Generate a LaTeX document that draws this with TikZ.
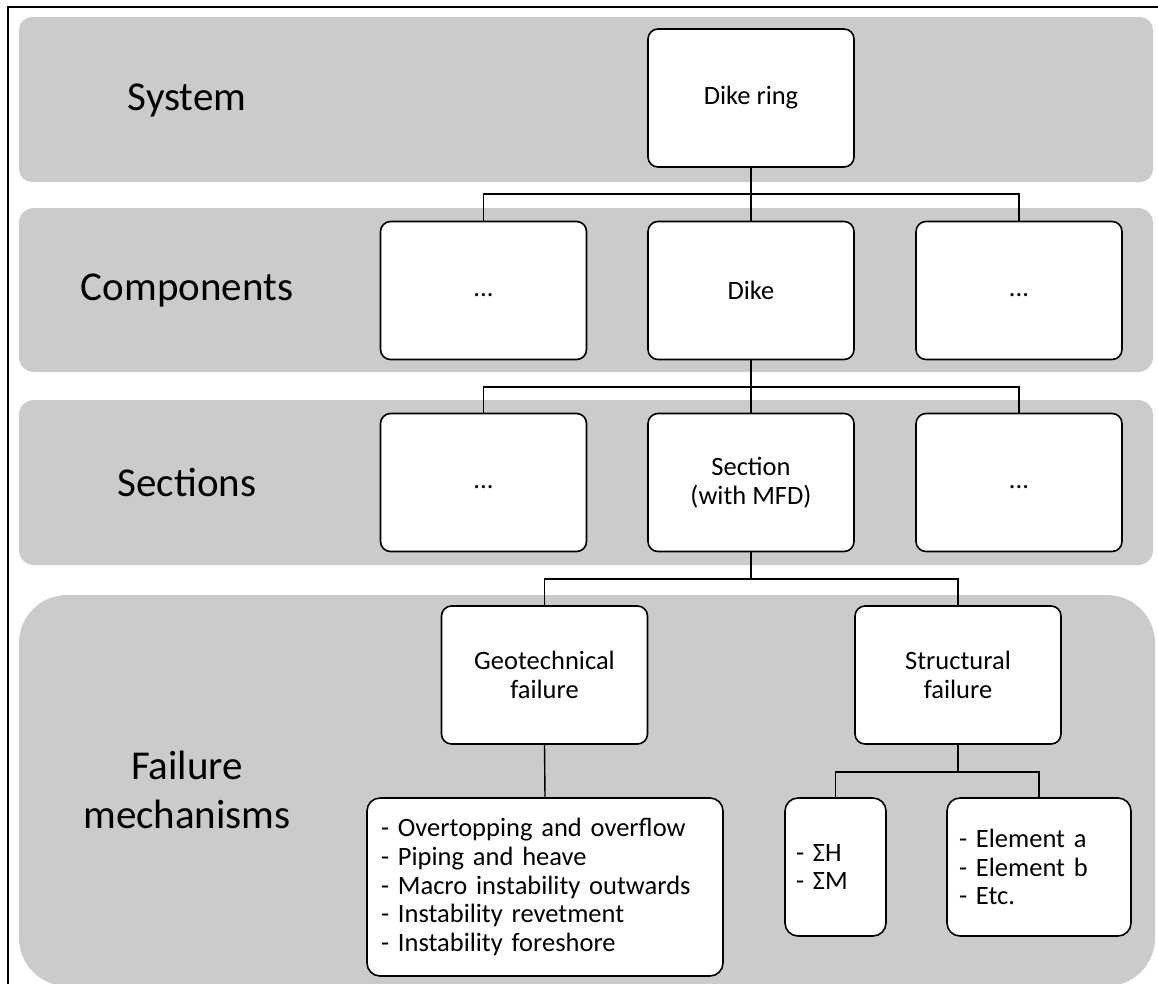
\documentclass[tikz,border=0pt]{standalone}
\usepackage{fontspec}
\setmainfont{Carlito}
\usetikzlibrary{positioning}
\definecolor{bandgray}{RGB}{203,203,203}
\newcommand{\boxfont}{\fontsize{26.5}{28.7}\selectfont}
\newcommand{\levelfont}{\fontsize{41}{49}\selectfont}

\begin{document}
\begin{tikzpicture}[x=1pt, y=-1pt,
  band/.style={fill=bandgray, draw=none},
  levelname/.style={font=\levelfont, align=center},
  box/.style={draw, fill=white, line width=1.6pt, rounded corners=10pt,
    minimum width=206pt, minimum height=138pt, align=center, font=\boxfont, inner sep=0pt},
  listbox/.style={draw, fill=white, line width=1.6pt, rounded corners=13pt,
    align=left, font=\boxfont, inner xsep=12pt, inner ysep=0pt},
  link/.style={line width=1.4pt}]
\useasboundingbox (0,0) rectangle (1158,983);

% level bands
\fill [band, rounded corners=13pt] (19,17) rectangle (1153,182);
\fill [band, rounded corners=15pt] (19,208) rectangle (1153,372);
\fill [band, rounded corners=15pt] (19,400) rectangle (1153,565);
\fill [band, rounded corners=48pt] (19,595) rectangle (1155,986);
\draw [line width=1.6pt] (8,995) -- (8,7) -- (1170,7);

\node [levelname] (system) at (187,100) {System};
\node [levelname] (components) at (187,290) {Components};
\node [levelname] (sections) at (187,482) {Sections};
\node [levelname] (mechanisms) at (187,790) {Failure\\mechanisms};

% boxes
\node [box] (ring) at (751,98) {Dike ring};
\node [box] (compA) at (483.5,290.5) {\strut...};
\node [box] (dike) at (751,290.5) {Dike};
\node [box] (compC) at (1019,290.5) {\strut...};
\node [box] (secA) at (483.5,482.5) {\strut...};
\node [box] (section) at (751,482.5) {Section\\(with MFD)};
\node [box] (secC) at (1019,482.5) {\strut...};
\node [box] (geo) at (544.5,675) {Geotechnical\\failure};
\node [box] (struct) at (958,675) {Structural\\failure};
\node [listbox, inner xsep=14pt, text width=328pt, minimum height=178pt] (geolist) at (545,887)
  {- Overtopping and overflow\\- Piping and heave\\- Macro instability outwards\\- Instability revetment\\- Instability foreshore};
\node [listbox, inner xsep=11pt, text width=79pt, minimum height=138pt] (sums) at (835.5,867)
  {- ΣH\\- ΣM};
\node [listbox, text width=160pt, minimum height=138pt] (elems) at (1039,867)
  {- Element a\\- Element b\\- Etc.};

% connectors
\coordinate (j1) at (751,194);
\coordinate (j2) at (751,387);
\coordinate (j3) at (751,579);
\coordinate (j4) at (958,772);
\draw [link] (ring.south) -- (j1) -- (dike.north);
\draw [link] (compA.north) |- (j1) -| (compC.north);
\draw [link] (dike.south) -- (j2) -- (section.north);
\draw [link] (secA.north) |- (j2) -| (secC.north);
\draw [link] (section.south) -- (j3);
\draw [link] (geo.north) |- (j3) -| (struct.north);
\draw [link] (geo.south) -- (geolist.north);
\draw [link] (struct.south) -- (j4);
\draw [link] (sums.north) |- (j4) -| (elems.north);
\end{tikzpicture}
\end{document}
